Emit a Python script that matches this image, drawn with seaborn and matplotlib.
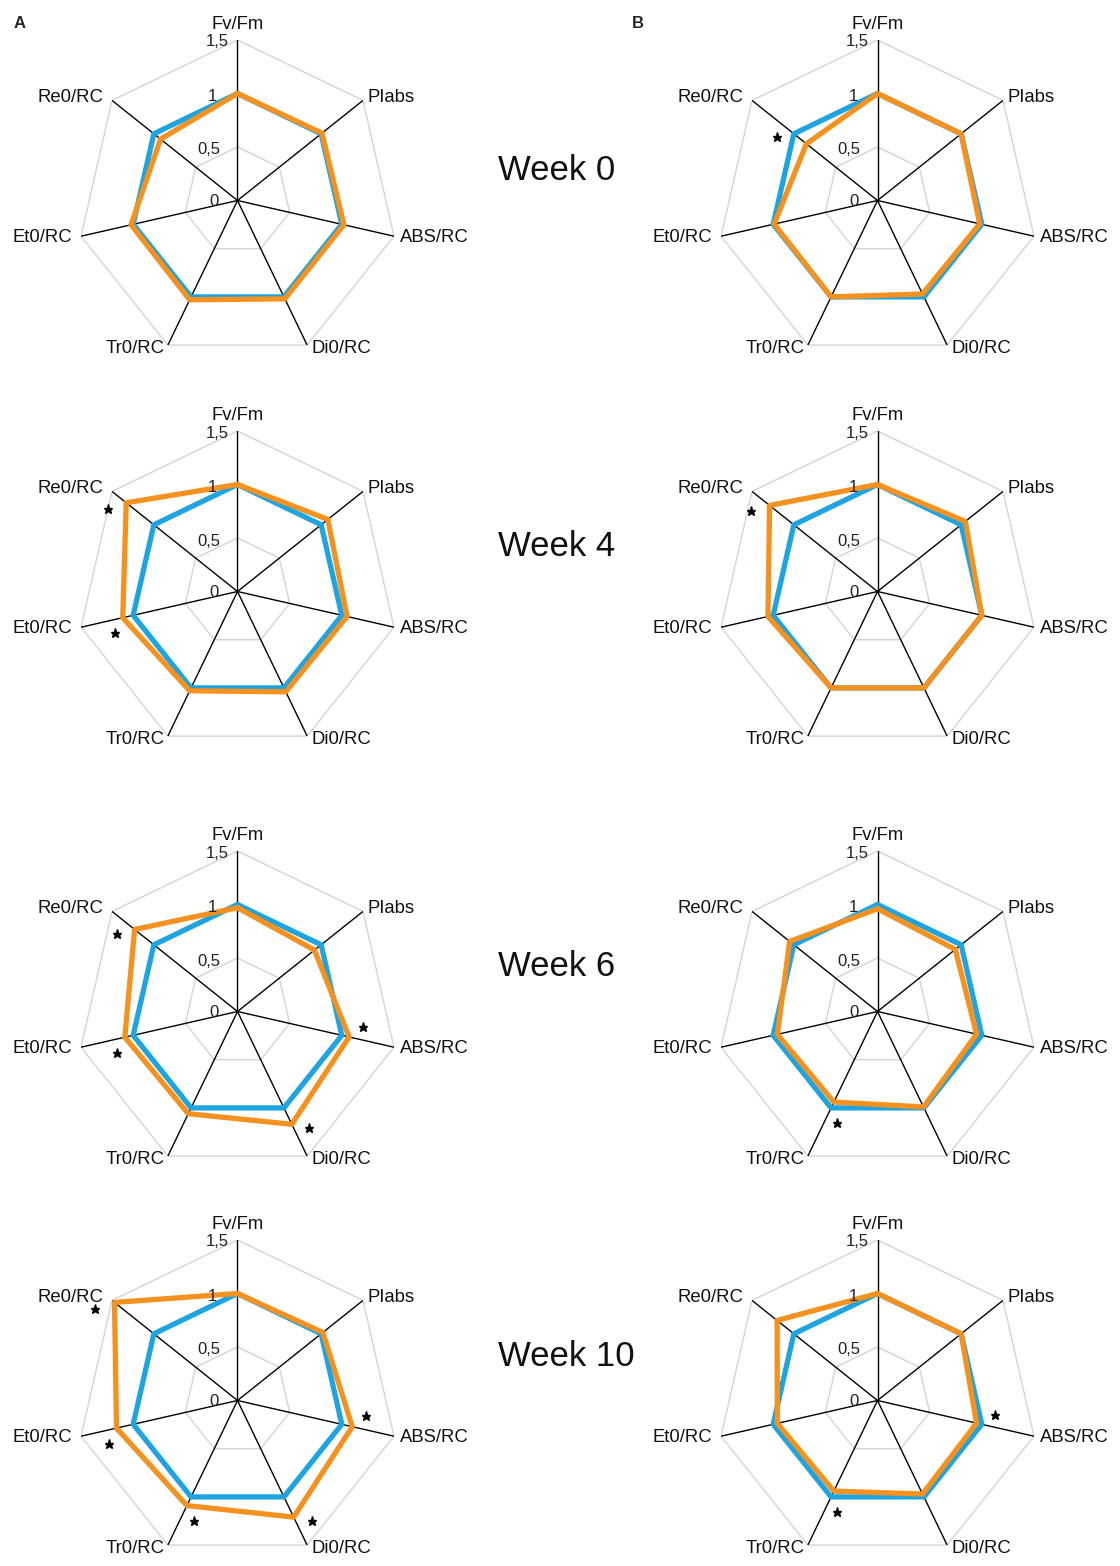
import numpy as np
import pandas as pd
import matplotlib
matplotlib.use("Agg")
import matplotlib.pyplot as plt
import seaborn as sns

sns.set_theme(style="white")
plt.rcParams['font.family'] = ['Liberation Sans', 'DejaVu Sans']

# ---------------- data ----------------
categories = ["Fv/Fm", "PIabs", "ABS/RC", "Di0/RC", "Tr0/RC", "Et0/RC", "Re0/RC"]
weeks = ["Week 0", "Week 4", "Week 6", "Week 10"]
r_ticks = [0, 0.5, 1, 1.5]
r_tick_labels = ["0", "0,5", "1", "1,5"]

control = [1.00, 1.00, 1.00, 1.00, 1.00, 1.00, 1.00]

A_week0 = [1.00, 1.01, 1.02, 1.02, 1.03, 1.02, 0.92]
A_week4 = [1.00, 1.08, 1.05, 1.04, 1.03, 1.10, 1.33]
A_week6 = [0.97, 0.92, 1.07, 1.17, 1.06, 1.08, 1.23]
A_week10 = [1.00, 1.02, 1.10, 1.21, 1.09, 1.16, 1.47]

B_week0 = [1.00, 1.00, 0.98, 0.97, 1.00, 0.99, 0.85]
B_week4 = [1.00, 1.05, 1.00, 1.00, 1.00, 1.05, 1.29]
B_week6 = [0.96, 0.93, 0.95, 0.99, 0.94, 0.96, 1.05]
B_week10 = [1.00, 1.00, 0.95, 0.97, 0.94, 0.96, 1.20]

# significance stars (indices into categories)
A_sig = [[], [6, 5], [6, 5, 2, 3], [6, 5, 2, 3, 4]]
B_sig = [[6], [6], [4], [2, 4]]

A_treat = [A_week0, A_week4, A_week6, A_week10]
B_treat = [B_week0, B_week4, B_week6, B_week10]

BLUE = "#1EA4E0"
ORANGE = "#F5911E"

# ---------------- layout (pixels) ----------------
W, H = 1120, 1566
fig = plt.figure(figsize=(W / 100, H / 100), dpi=100)
fig.patch.set_facecolor("white")

col_cx = [237.5, 877.5]
row_cy = [200.5, 591.5, 1011.5, 1400.5]
R = 160.5  # pixel radius of 1.5

n = len(categories)
theta = np.arange(n) * 2 * np.pi / n

# label offsets in px (dx, dy[up]) and alignment
lab_off = [(0, 7, "center", "bottom"), (5, 3, "left", "center"), (6, -1, "left", "center"),
           (4, -3, "left", "center"), (-3, -3, "right", "center"), (-9, -1, "right", "center"),
           (-9, 3, "right", "center")]
tick_off = [(-19, -1), (-17, -3), (-20, -3), (-9, -2)]
px2pt = 0.72


def radar(ax, treat, sig):
    ax.set_theta_zero_location("N")
    ax.set_theta_direction(-1)
    ax.set_ylim(0, 1.5)
    ax.grid(False)
    ax.set_xticks([])
    ax.set_yticks([])
    ax.spines["polar"].set_visible(False)
    ax.patch.set_alpha(0)

    closed = np.append(theta, 2 * np.pi)
    # grid heptagons
    for rv in [0.5, 1.0, 1.5]:
        ax.plot(closed, [rv] * (n + 1), color="#d4d4d4", lw=1.0, zorder=1)
    # spokes
    for t in theta:
        ax.plot([t, t], [0, 1.5], color="black", lw=1.0, zorder=2)

    df_c = pd.DataFrame({"theta": closed, "r": control + [control[0]]})
    df_t = pd.DataFrame({"theta": closed, "r": treat + [treat[0]]})
    sns.lineplot(data=df_c, x="theta", y="r", sort=False, estimator=None, ax=ax,
                 color=BLUE, lw=3.8, zorder=3)
    sns.lineplot(data=df_t, x="theta", y="r", sort=False, estimator=None, ax=ax,
                 color=ORANGE, lw=3.8, zorder=4)
    ax.set_xlabel("")
    ax.set_ylabel("")
    ax.set_ylim(0, 1.5)

    # category labels
    for t, lab, (dx, dy, ha, va) in zip(theta, categories, lab_off):
        ax.annotate(lab, xy=(t, 1.5), xytext=(dx * px2pt, dy * px2pt),
                    textcoords="offset points", ha=ha, va=va, fontsize=13.3,
                    color="#111111", annotation_clip=False)
    # radial tick labels
    for rv, lab, (dx, dy) in zip(r_ticks, r_tick_labels, tick_off):
        ax.annotate(lab, xy=(0, rv), xytext=(dx * px2pt, dy * px2pt),
                    textcoords="offset points", ha="right", va="center",
                    fontsize=12, color="#222222", annotation_clip=False, zorder=5)
    # significance stars
    for i in sig:
        rr = max(treat[i], control[i]) + 0.11
        ax.plot([theta[i] - np.deg2rad(6)], [rr], marker="*", ms=6.5,
                color="black", ls="none", clip_on=False, zorder=6)


for ci, (treats, sigs) in enumerate([(A_treat, A_sig), (B_treat, B_sig)]):
    for ri in range(4):
        cx, cy = col_cx[ci], row_cy[ri]
        rect = [(cx - R) / W, (H - cy - R) / H, 2 * R / W, 2 * R / H]
        ax = fig.add_axes(rect, projection="polar")
        radar(ax, treats[ri], sigs[ri])

week_y = [170, 547, 966, 1357]
for wk, y in zip(weeks, week_y):
    fig.text(498 / W, 1 - y / H, wk, ha="left", va="center", fontsize=25, color="#111111")

fig.text(20 / W, 1 - 23 / H, "A", ha="center", va="center", fontsize=12, fontweight="bold")
fig.text(638 / W, 1 - 24 / H, "B", ha="center", va="center", fontsize=12, fontweight="bold")

fig.savefig("out.png", dpi=100, facecolor="white")
